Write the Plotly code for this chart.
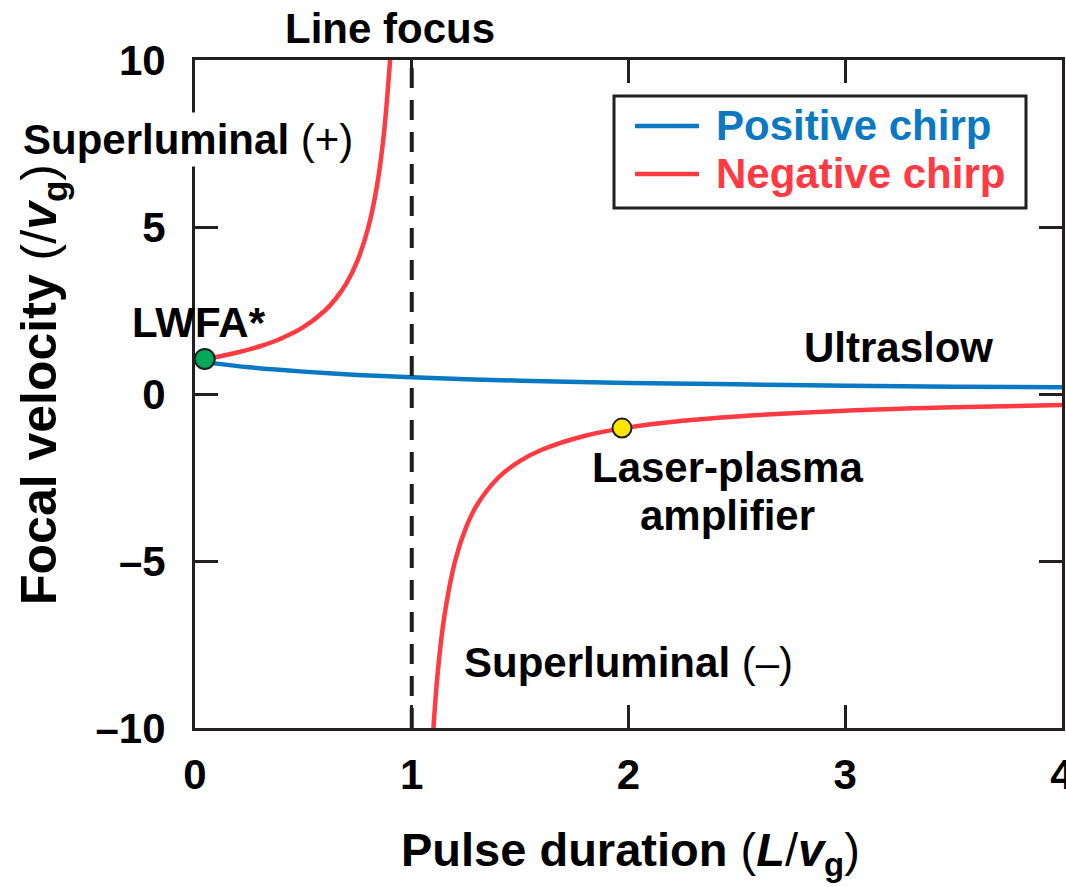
import plotly.graph_objects as go

# Focal velocity vs. pulse duration for positively and negatively chirped pulses
pos_x = [0.045, 0.1, 0.25, 0.5, 0.75, 1.0, 1.25, 1.5, 2.0, 2.5, 3.0, 3.5, 4.0]
pos_y = [0.96, 0.91, 0.80, 0.67, 0.57, 0.50, 0.44, 0.40, 0.33, 0.29, 0.25, 0.22, 0.20]

neg_hi_x = [0.045, 0.1, 0.2, 0.3, 0.4, 0.5, 0.6, 0.65, 0.7, 0.75, 0.8, 0.84, 0.87, 0.9]
neg_hi_y = [1.05, 1.11, 1.25, 1.43, 1.67, 2.0, 2.5, 2.86, 3.33, 4.0, 5.0, 6.25, 7.7, 10.0]

neg_lo_x = [1.1, 1.12, 1.15, 1.2, 1.25, 1.3, 1.4, 1.5, 1.6, 1.8, 2.0, 2.25, 2.5, 3.0, 3.5, 4.0]
neg_lo_y = [-10.0, -8.33, -6.67, -5.0, -4.0, -3.33, -2.5, -2.0, -1.67, -1.25, -1.0, -0.8, -0.67, -0.5, -0.4, -0.33]

lwfa_pt = (0.045, 1.05)
lpa_pt = (1.97, -1.02)

x_ticks = [0, 1, 2, 3, 4]
x_ticktext = ["0", "1", "2", "3", "4"]
y_ticks = [-10, -5, 0, 5, 10]
y_ticktext = ["–10", "–5", "0", "5", "10"]

BLUE = "#0a78c2"
RED = "#ff3a42"
INK = "#231f20"
FONT = "Liberation Sans"

# plot area in pixels: left 195, right 1062, top 60, bottom 728
PL, PR, PT, PB = 195, 1062, 60, 728


def px(xp):
    return (xp - PL) / (PR - PL)


def py(yp):
    return (PB - yp) / (PB - PT)


fig = go.Figure()

fig.add_trace(go.Scatter(x=pos_x, y=pos_y, mode="lines", line=dict(color=BLUE, width=4.5, shape="spline"),
                         showlegend=False))
fig.add_trace(go.Scatter(x=neg_hi_x, y=neg_hi_y, mode="lines", line=dict(color=RED, width=4.5, shape="spline"),
                         showlegend=False))
fig.add_trace(go.Scatter(x=neg_lo_x, y=neg_lo_y, mode="lines", line=dict(color=RED, width=4.5, shape="spline"),
                         showlegend=False))
fig.add_trace(go.Scatter(x=[lwfa_pt[0]], y=[lwfa_pt[1]], mode="markers",
                         marker=dict(size=20, color="#00a85a", line=dict(color=INK, width=2)),
                         showlegend=False, cliponaxis=False))
fig.add_trace(go.Scatter(x=[lpa_pt[0]], y=[lpa_pt[1]], mode="markers",
                         marker=dict(size=19, color="#ffe600", line=dict(color=INK, width=2)),
                         showlegend=False))

# line-focus asymptote
fig.add_shape(type="line", x0=1, x1=1, y0=-10, y1=9.75, xref="x", yref="y",
              line=dict(color=INK, width=4, dash="20px,12px"))

axis_common = dict(
    showline=True, linecolor=INK, linewidth=3, mirror="allticks",
    ticks="inside", ticklen=23, tickwidth=3, tickcolor=INK,
    showgrid=False, zeroline=False, ticklabeloverflow="allow", automargin=False,
    tickfont=dict(family=FONT, size=42, color="black", weight="bold"),
)

fig.update_xaxes(range=[0, 4], tickvals=x_ticks, ticktext=x_ticktext, ticklabelstandoff=8, **axis_common)
fig.update_yaxes(range=[-10, 10], tickvals=y_ticks, ticktext=y_ticktext, ticklabelstandoff=18, **axis_common)


def note(text, xp, yp, xanchor="center", size=42, **kw):
    fig.add_annotation(text=text, x=px(xp), y=py(yp), xref="paper", yref="paper", showarrow=False,
                       xanchor=xanchor, yanchor="middle",
                       font=dict(family=FONT, size=size, color="black"), **kw)


note("<b>Line focus</b>", 390, 28)
note("<b>Superluminal</b> (+)", 19, 140, xanchor="left", bgcolor="white", borderpad=3)
note("<b>LWFA*</b>", 130, 322, xanchor="left")
note("<b>Ultraslow</b>", 802, 347, xanchor="left")
note("<b>Laser-plasma</b>", 727, 468)
note("<b>amplifier</b>", 727, 515)
note("<b>Superluminal</b> (–)", 462, 662, xanchor="left")

# axis titles
note("<b>Pulse duration </b>(<b><i>L</i></b>/<b><i>v</i></b><sub><b>g</b></sub>)", 630, 853, size=47)
note("<b>Focal velocity </b>(/<b><i>v</i></b><sub><b>g</b></sub>)", 42, 385, size=50, textangle=-90)

# legend box
fig.add_shape(type="rect", xref="paper", yref="paper", x0=px(614), x1=px(1026), y0=py(96), y1=py(208),
              line=dict(color=INK, width=3), fillcolor="white")
legend_items = [("Positive chirp", BLUE, 126), ("Negative chirp", RED, 174)]
for label, color, yp in legend_items:
    fig.add_shape(type="line", xref="paper", yref="paper", x0=px(635), x1=px(699), y0=py(yp), y1=py(yp),
                  line=dict(color=color, width=4.5))
    fig.add_annotation(text=f"<b>{label}</b>", xref="paper", yref="paper", x=px(714), y=py(yp),
                       xanchor="left", yanchor="middle", showarrow=False,
                       font=dict(family=FONT, size=42, color=color))

fig.update_layout(
    width=1066, height=887,
    margin=dict(l=PL, r=1066 - PR, t=PT, b=887 - PB),
    plot_bgcolor="white", paper_bgcolor="white",
    showlegend=False,
)

fig.write_html("out.html")
